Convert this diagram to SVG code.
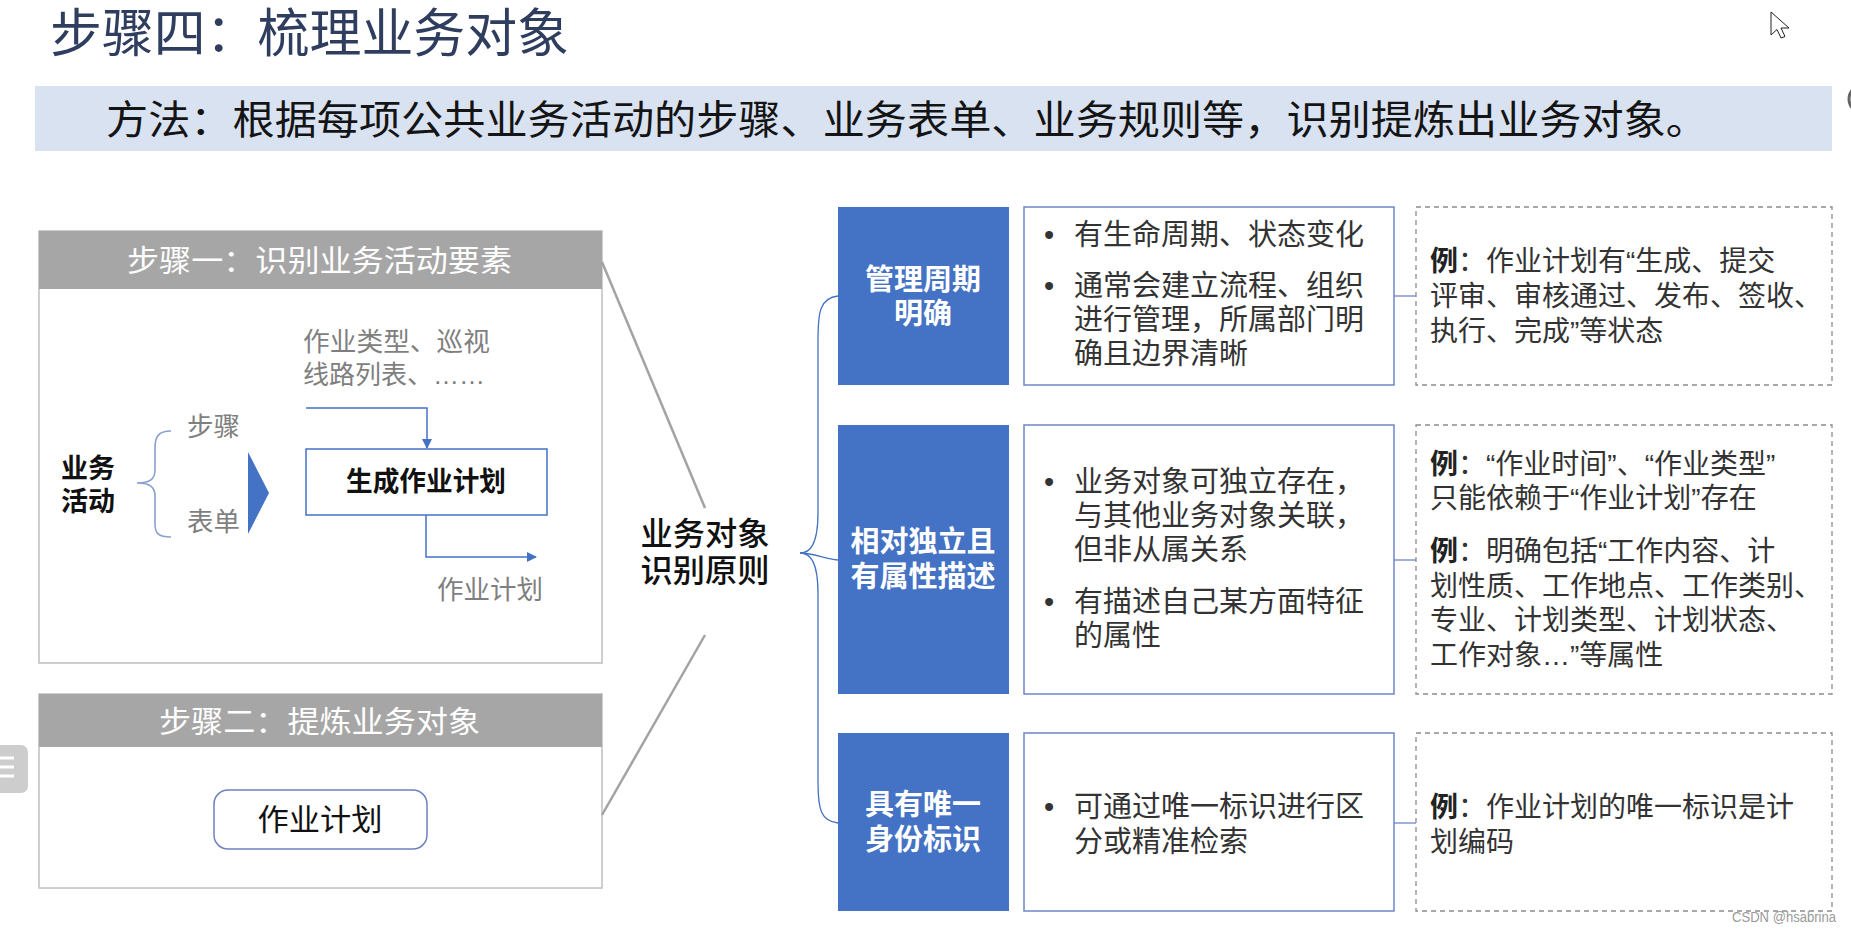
<svg xmlns="http://www.w3.org/2000/svg" width="1851" height="931" viewBox="0 0 1851 931">
<defs>
<style>
text{font-family:"Liberation Sans","Noto Sans CJK SC",sans-serif;dominant-baseline:central}
.title{font-size:52px;fill:#2F3E5F}
.method{font-size:40px;fill:#141414}
.head{font-size:30px;fill:#ffffff}
.gray{font-size:26px;fill:#7F7F7F}
.blk{font-size:27px;fill:#111;font-weight:bold}
.ctr{font-size:32px;fill:#111;font-weight:500}
.bw{font-size:29px;fill:#ffffff;font-weight:bold}
.bul{font-size:29px;fill:#333}
.ex{font-size:28px;fill:#333}
.b{font-weight:bold;fill:#222}
.panel{fill:#fff;stroke:#BFBFBF;stroke-width:1.5}
.phead{fill:#A6A6A6}
.blue{fill:#4472C4}
.wbox{fill:#fff;stroke:#6E87C7;stroke-width:1.5}
.dbox{fill:#fff;stroke:#8C8C8C;stroke-width:1.3;stroke-dasharray:5 4}
.gline{fill:none;stroke:#A3A3A3;stroke-width:2.5}
.bline{fill:none;stroke:#4472C4;stroke-width:1.5}
.tline{fill:none;stroke:#6E87C7;stroke-width:1.3}
</style>
<marker id="arr" viewBox="0 0 10 10" refX="9" refY="5" markerWidth="10" markerHeight="10" markerUnits="userSpaceOnUse" orient="auto">
<path d="M0,0 L10,5 L0,10 z" fill="#4472C4"/>
</marker>
</defs>
<rect x="0" y="0" width="1851" height="931" fill="#ffffff"/>

<g id="title">
<text class="title" x="50" y="34" textLength="519" lengthAdjust="spacingAndGlyphs">步骤四：梳理业务对象</text>
</g>

<g id="method">
<rect x="35" y="86" width="1797" height="65" fill="#D9E2F1"/>
<text class="method" x="106" y="120" textLength="1602" lengthAdjust="spacingAndGlyphs">方法：根据每项公共业务活动的步骤、业务表单、业务规则等，识别提炼出业务对象。</text>
</g>

<g id="step1">
<rect class="panel" x="39" y="231" width="563" height="432"/>
<rect class="phead" x="39" y="231" width="563" height="58"/>
<text class="head" x="127" y="260" textLength="385" lengthAdjust="spacingAndGlyphs">步骤一：识别业务活动要素</text>
<text class="blk" x="61" y="469" textLength="54" lengthAdjust="spacingAndGlyphs">业务</text>
<text class="blk" x="61" y="502" textLength="54" lengthAdjust="spacingAndGlyphs">活动</text>
<path d="M171,431 C158,431 155,437 155,448 L155,470 C155,479 150,483 137,483 C150,483 155,487 155,496 L155,524 C155,533 158,537 171,537" fill="none" stroke="#8AA0D0" stroke-width="1.6"/>
<text class="gray" x="187" y="427" textLength="53" lengthAdjust="spacingAndGlyphs">步骤</text>
<text class="gray" x="187" y="522" textLength="53" lengthAdjust="spacingAndGlyphs">表单</text>
<path d="M248,452 L269,493 L248,534 z" fill="#4472C4"/>
<text class="gray" x="303" y="342" textLength="187" lengthAdjust="spacingAndGlyphs">作业类型、巡视</text>
<text class="gray" x="303" y="375">线路列表、……</text>
<g id="gen-plan">
<rect x="306" y="449" width="241" height="66" fill="#fff" stroke="#4472C4" stroke-width="1.5"/>
<text class="blk" x="426" y="482" text-anchor="middle" textLength="160" lengthAdjust="spacingAndGlyphs">生成作业计划</text>
</g>
<text class="gray" x="437" y="590" textLength="106" lengthAdjust="spacingAndGlyphs">作业计划</text>
</g>

<g id="step2">
<rect class="panel" x="39" y="694" width="563" height="194"/>
<rect class="phead" x="39" y="694" width="563" height="53"/>
<text class="head" x="159" y="721" textLength="321" lengthAdjust="spacingAndGlyphs">步骤二：提炼业务对象</text>
<g id="plan-object">
<rect x="214" y="790" width="213" height="59" rx="14" fill="#fff" stroke="#7080C0" stroke-width="1.5"/>
<text x="320" y="819" text-anchor="middle" font-size="30" fill="#111" textLength="125" lengthAdjust="spacingAndGlyphs">作业计划</text>
</g>
</g>

<g id="principle">
<text class="ctr" x="705" y="534" text-anchor="middle" textLength="129" lengthAdjust="spacingAndGlyphs">业务对象</text>
<text class="ctr" x="705" y="571" text-anchor="middle" textLength="129" lengthAdjust="spacingAndGlyphs">识别原则</text>
</g>

<g id="rule1">
<rect class="blue" x="838" y="207" width="171" height="178"/>
<text class="bw" x="923" y="280" text-anchor="middle">管理周期</text>
<text class="bw" x="923" y="314" text-anchor="middle">明确</text>
</g>
<g id="rule2">
<rect class="blue" x="838" y="425" width="171" height="269"/>
<text class="bw" x="923" y="542" text-anchor="middle">相对独立且</text>
<text class="bw" x="923" y="577" text-anchor="middle">有属性描述</text>
</g>
<g id="rule3">
<rect class="blue" x="838" y="733" width="171" height="178"/>
<text class="bw" x="923" y="805" text-anchor="middle">具有唯一</text>
<text class="bw" x="923" y="840" text-anchor="middle">身份标识</text>
</g>

<g id="desc1">
<rect class="wbox" x="1024" y="207" width="370" height="178"/>
<text class="bul" x="1044" y="235">•</text>
<text class="bul" x="1074" y="235">有生命周期、状态变化</text>
<text class="bul" x="1044" y="286">•</text>
<text class="bul" x="1074" y="286">通常会建立流程、组织</text>
<text class="bul" x="1074" y="320">进行管理，所属部门明</text>
<text class="bul" x="1074" y="354">确且边界清晰</text>
</g>
<g id="desc2">
<rect class="wbox" x="1024" y="425" width="370" height="269"/>
<text class="bul" x="1044" y="482">•</text>
<text class="bul" x="1074" y="482">业务对象可独立存在，</text>
<text class="bul" x="1074" y="516">与其他业务对象关联，</text>
<text class="bul" x="1074" y="550">但非从属关系</text>
<text class="bul" x="1044" y="602">•</text>
<text class="bul" x="1074" y="602">有描述自己某方面特征</text>
<text class="bul" x="1074" y="636">的属性</text>
</g>
<g id="desc3">
<rect class="wbox" x="1024" y="733" width="370" height="178"/>
<text class="bul" x="1044" y="807">•</text>
<text class="bul" x="1074" y="807">可通过唯一标识进行区</text>
<text class="bul" x="1074" y="842">分或精准检索</text>
</g>

<g id="example1">
<rect class="dbox" x="1416" y="207" width="416" height="178"/>
<text class="ex" x="1430" y="261"><tspan class="b">例</tspan>：作业计划有“生成、提交</text>
<text class="ex" x="1430" y="296">评审、审核通过、发布、签收、</text>
<text class="ex" x="1430" y="331">执行、完成”等状态</text>
</g>
<g id="example2">
<rect class="dbox" x="1416" y="425" width="416" height="269"/>
<text class="ex" x="1430" y="464"><tspan class="b">例</tspan>：“作业时间”、“作业类型”</text>
<text class="ex" x="1430" y="498">只能依赖于“作业计划”存在</text>
<text class="ex" x="1430" y="551"><tspan class="b">例</tspan>：明确包括“工作内容、计</text>
<text class="ex" x="1430" y="586">划性质、工作地点、工作类别、</text>
<text class="ex" x="1430" y="620">专业、计划类型、计划状态、</text>
<text class="ex" x="1430" y="655">工作对象…”等属性</text>
</g>
<g id="example3">
<rect class="dbox" x="1416" y="733" width="416" height="178"/>
<text class="ex" x="1430" y="807"><tspan class="b">例</tspan>：作业计划的唯一标识是计</text>
<text class="ex" x="1430" y="842">划编码</text>
</g>

<g id="connectors">
<path class="bline" d="M306,408 L427,408 L427,448" marker-end="url(#arr)"/>
<path class="bline" d="M426,515 L426,557 L536,557" marker-end="url(#arr)"/>
<path class="gline" d="M602,262 L705,508"/>
<path class="gline" d="M602,815 L705,635"/>
<path d="M838,296 C820,298 818,312 818,340 L818,512 C818,545 810,553 800,553 C810,553 818,561 818,594 L818,782 C818,810 821,821 838,823" fill="none" stroke="#4472C4" stroke-width="1.3"/>
<path d="M800,553 C815,553 824,559 838,560" fill="none" stroke="#4472C4" stroke-width="1.3"/>
<path class="tline" d="M1394,296 L1416,296"/>
<path class="tline" d="M1394,560 L1416,560"/>
<path class="tline" d="M1394,823 L1416,823"/>
</g>

<g id="screen-ui">
<rect x="-8" y="745" width="36" height="48" rx="7" fill="#CDCDCD"/>
<path d="M0,758 L14,758 M0,767 L14,767 M0,776 L14,776" stroke="#ffffff" stroke-width="3"/>
<path d="M1771,12 L1771,35 L1777,29.5 L1781,38 L1785,36.5 L1781,28 L1789,28 z" fill="#ffffff" stroke="#222" stroke-width="1"/>
<circle cx="1863" cy="99" r="14" fill="none" stroke="#666" stroke-width="3"/>
<text x="1732" y="917" font-size="14" fill="#9A9A9A" textLength="104" lengthAdjust="spacingAndGlyphs">CSDN @hsabrina</text>
</g>
</svg>
